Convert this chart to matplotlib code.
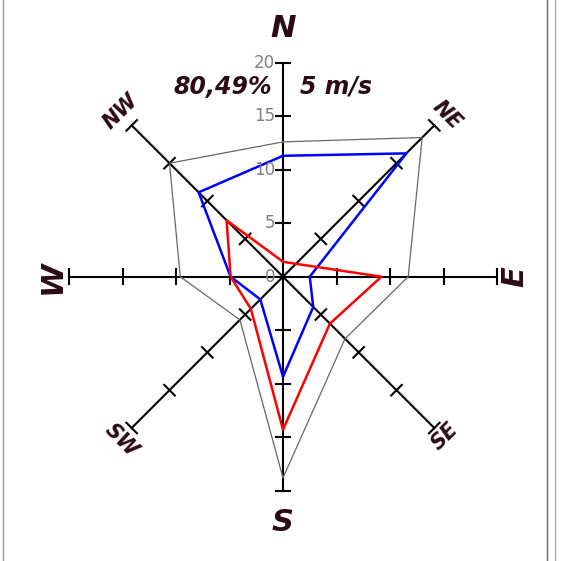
import numpy as np
import matplotlib
matplotlib.use('Agg')
from matplotlib import pyplot as plt
from matplotlib.lines import Line2D

# wind directions, clockwise from north
directions = ['N', 'NE', 'E', 'SE', 'S', 'SW', 'W', 'NW']
gray_vals = [12.6, 18.4, 11.7, 8.2, 18.8, 5.7, 9.6, 15.0]
blue_vals = [11.3, 16.3, 2.5, 4.0, 9.35, 3.0, 4.9, 11.15]
red_vals = [1.4, 1.7, 9.2, 6.2, 14.3, 4.25, 4.9, 7.45]
scale_ticks = [5, 10, 15, 20]
scale_labels = ['0', '5', '10', '15', '20']
calm_text = '80,49%'
speed_text = '5 m/s'

text_color = '#2b0a14'
px = 10.7  # pixels per unit
cx, cy = 283, 276.7

fig = plt.figure(figsize=(5.61, 5.61), dpi=100)
ax = fig.add_axes([0, 0, 1, 1])
ax.set_xlim(-cx / px, (561 - cx) / px)
ax.set_ylim(-(561 - cy) / px, cy / px)
ax.set_aspect('equal')
ax.axis('off')

angles = np.deg2rad(90 - 45 * np.arange(8))
rmax = 20
half = 0.7

# axes with cross ticks
for a in angles:
    ux, uy = np.cos(a), np.sin(a)
    ax.plot([0, rmax * ux], [0, rmax * uy], color='black', lw=1.5, zorder=2)
    for t in scale_ticks:
        px0, py0 = t * ux, t * uy
        ax.plot([px0 - half * uy, px0 + half * uy], [py0 + half * ux, py0 - half * ux],
                color='black', lw=1.5, zorder=2)

def draw(vals, color, lw):
    v = np.array(vals + vals[:1])
    a = np.concatenate([angles, angles[:1]])
    ax.plot(v * np.cos(a), v * np.sin(a), color=color, lw=lw, zorder=3)

draw(gray_vals, '#666666', 0.9)
draw(blue_vals, '#0000ff', 1.8)
draw(red_vals, '#ff0000', 1.8)

# scale labels on the north axis
for i, lab in enumerate(scale_labels):
    ax.text(-0.75, i * 5, lab, ha='right', va='center', fontsize=12,
            color='#808080', zorder=4)

# direction labels
lab_font = dict(fontweight='bold', fontstyle='italic', color=text_color, ha='center', va='center')
ax.text(0, 23.2, 'N', fontsize=22, **lab_font)
ax.text(0, -23.0, 'S', fontsize=22, **lab_font)
ax.text(-21.6, 0, 'W', fontsize=22, rotation=90, **lab_font)
ax.text(21.7, 0, 'E', fontsize=22, rotation=90, **lab_font)
ax.text(-15.2, 15.4, 'NW', fontsize=15, rotation=45, **lab_font)
ax.text(15.3, 15.1, 'NE', fontsize=15, rotation=-45, **lab_font)
ax.text(15.1, -14.95, 'SE', fontsize=15, rotation=45, **lab_font)
ax.text(-15.1, -15.3, 'SW', fontsize=15, rotation=-45, **lab_font)

ax.text(-5.65, 17.76, calm_text, fontsize=17, **lab_font)
ax.text(5.0, 17.76, speed_text, fontsize=17, **lab_font)

# frame edges of neighbouring panels
fig.add_artist(Line2D([3 / 561, 3 / 561], [0, 1], color='#999999', lw=1))
fig.add_artist(Line2D([547 / 561, 547 / 561], [0, 1], color='#666666', lw=1))
fig.add_artist(Line2D([555 / 561, 555 / 561], [0, 1], color='#aaaaaa', lw=1))

fig.savefig('out.png', dpi=100)
